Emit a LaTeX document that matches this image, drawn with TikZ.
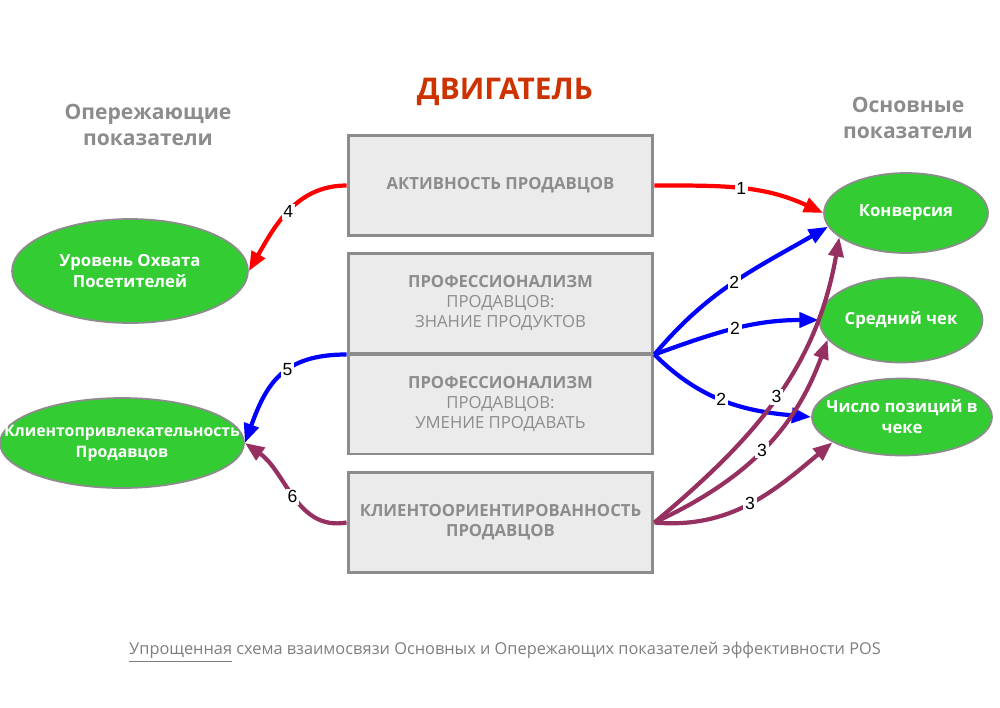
\documentclass[tikz,border=0pt]{standalone}
\usepackage{fontspec}
\setmainfont{Open Sans}
\newfontfamily\arialfont{Liberation Sans}
\usepackage{tikz}
\usetikzlibrary{shapes.geometric, arrows.meta, positioning, calc}
\definecolor{engred}{RGB}{204, 51, 0}
\definecolor{boxfill}{RGB}{235, 235, 235}
\definecolor{boxline}{RGB}{140, 140, 140}
\definecolor{kpigreen}{RGB}{51, 204, 51}
\definecolor{linkblue}{RGB}{0, 0, 255}
\definecolor{linkred}{RGB}{255, 0, 0}
\definecolor{linkpurple}{RGB}{150, 48, 96}

\begin{document}
\begin{tikzpicture}[x=0.02cm, y=0.02cm,
  block/.style={draw=boxline, fill=boxfill, line width=1.7pt, minimum width=6.1cm, minimum height=2cm,
    align=center, text=boxline, font=\fontsize{9.5}{11.5}\selectfont},
  kpi/.style={ellipse, draw=boxline, fill=kpigreen, line width=1pt, inner sep=0pt, align=center,
    text=white, font=\fontsize{9.5}{12}\selectfont\bfseries},
  link/.style={line width=2.4pt, -{Triangle[length=11pt, width=8.5pt]}},
  num/.style={fill=white, inner sep=1pt, text=black, font=\arialfont\fontsize{10}{12}\selectfont}]
  \useasboundingbox (0,0) rectangle (1000,-707);

  % Headers
  \node[font=\fontsize{17}{20}\selectfont\bfseries, text=engred] (title) at (505,-92) {ДВИГАТЕЛЬ};
  \node[font=\fontsize{12}{15}\selectfont\bfseries, text=boxline, align=center] (lead) at (148,-125) {Опережающие\\показатели};
  \node[font=\fontsize{12}{15}\selectfont\bfseries, text=boxline, align=center] (main) at (908,-118) {Основные\\показатели};

  % Engine blocks
  \node[block, font=\fontsize{9.5}{11.5}\selectfont\bfseries] (act) at (500.5,-185.5) {АКТИВНОСТЬ ПРОДАВЦОВ};
  \node[block] (prof1) at (500.5,-303) {\textbf{ПРОФЕССИОНАЛИЗМ}\\ПРОДАВЦОВ:\\ЗНАНИЕ ПРОДУКТОВ};
  \node[block] (prof2) at (500.5,-404) {\textbf{ПРОФЕССИОНАЛИЗМ}\\ПРОДАВЦОВ:\\УМЕНИЕ ПРОДАВАТЬ};
  \node[block, font=\fontsize{9.5}{11.5}\selectfont\bfseries] (client) at (500.5,-522.5) {КЛИЕНТООРИЕНТИРОВАННОСТЬ\\ПРОДАВЦОВ};

  % Leading indicators
  \node[kpi, minimum width=4.72cm, minimum height=2.08cm] (reach) at (130,-271) {Уровень Охвата\\Посетителей};
  \node[kpi, minimum width=4.72cm, minimum height=1.8cm, inner xsep=-18pt, font=\fontsize{9}{12}\selectfont\bfseries] (attract) at (122,-443) {Клиентопривлекательность\\Продавцов};

  % Main indicators
  \node[kpi, minimum width=3.28cm, minimum height=1.6cm] (conv) at (906,-213) {Конверсия};
  \node[kpi, minimum width=3.26cm, minimum height=1.7cm] (check) at (901,-320) {Средний чек};
  \node[kpi, minimum width=3.6cm, minimum height=1.54cm, inner xsep=-12pt] (items) at (902,-417) {Число позиций в\\чеке};

  % Red links
  \draw[link, linkred] (act.east) to[out=0, in=155] node[num, pos=0.5] {1} (conv.west);
  \draw[link, linkred] (act.west) to[out=180, in=60] node[num, pos=0.5] {4} (reach.east);

  % Blue links
  \draw[link, linkblue] (prof1.south east) to[out=50, in=210] node[num, pos=0.5] {2} (conv.190);
  \draw[link, linkblue] (prof1.south east) to[out=20, in=180] node[num, pos=0.5] {2} (check.west);
  \draw[link, linkblue] (prof1.south east) to[out=-45, in=175] node[num, pos=0.47] {2} (items.west);
  \draw[link, linkblue] (prof1.south west) to[out=180, in=70, looseness=1.2] node[num, pos=0.42] {5} (attract.east);

  % Purple links
  \draw[link, linkpurple] (client.east) to[out=40, in=260] node[num, pos=0.5] {3} (conv.200);
  \draw[link, linkpurple] (client.east) to[out=25, in=250] node[num, pos=0.5] {3} (check.195);
  \draw[link, linkpurple] (client.east) to[out=-5, in=220] node[num, pos=0.5] {3} (items.200);
  \draw[link, linkpurple] (client.west) to[out=190, in=-35] node[num, pos=0.5] {6} (attract.east);

  % Caption
  \node[font=\fontsize{9.3}{11}\selectfont, text=boxline!90!black] (caption) at (505,-652) {\underline{Упрощенная} схема взаимосвязи Основных и Опережающих показателей эффективности POS};
\end{tikzpicture}
\end{document}
